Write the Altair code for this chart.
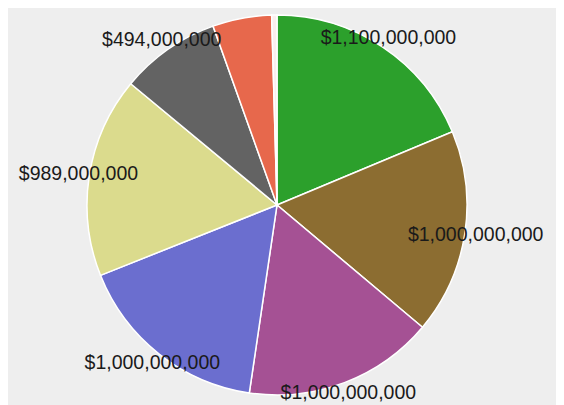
import altair as alt
import pandas as pd

# Slices in clockwise order from 12 o'clock
categories = ["A", "B", "C", "D", "E", "F", "G", "H"]
values = [1085000000, 1010000000, 940000000, 965000000, 989000000, 494000000, 291000000, 26000000]
labels = ["$1,100,000,000", "$1,000,000,000", "$1,000,000,000", "$1,000,000,000",
          "$989,000,000", "$494,000,000", "", ""]
colors = ["#2ca02c", "#8c6d31", "#a55194", "#6b6ecf", "#dbdb8d", "#636363", "#e7684c", "#fbeeee"]

df = pd.DataFrame({
    "category": categories,
    "value": values,
    "label": labels,
    "order": list(range(len(categories))),
})

base = alt.Chart(df).encode(
    theta=alt.Theta("value:Q", stack=True),
    order=alt.Order("order:Q", sort="ascending"),
    x=alt.value(269),
    y=alt.value(197),
)

pie = base.mark_arc(outerRadius=190, stroke="#ffffff", strokeWidth=1.5).encode(
    color=alt.Color("category:N", scale=alt.Scale(domain=categories, range=colors), legend=None),
)

text = base.mark_text(
    radius=201, fontSize=19.5, font="Liberation Sans", color="#1a1a1a",
    align="center", baseline="middle",
).encode(text="label:N")

chart = (pie + text).properties(
    width=548, height=397, padding=0, autosize="none", background="#eeeeee"
).configure_view(stroke=None)

chart.save("out.html", embed_options={"renderer": "svg", "actions": False})
